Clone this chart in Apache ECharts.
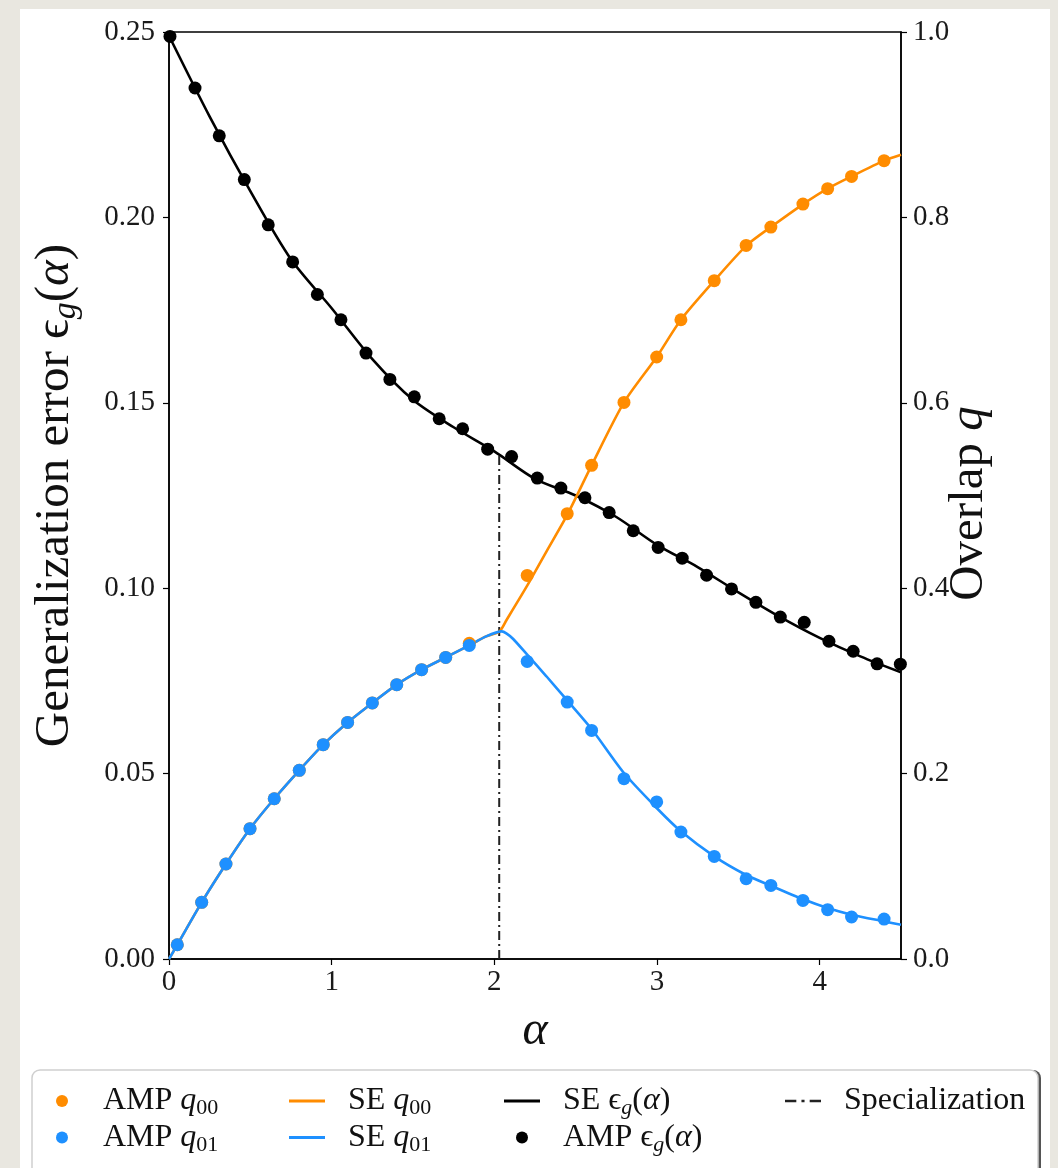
<!DOCTYPE html>
<html>
<head>
<meta charset="utf-8">
<script src="https://cdn.jsdelivr.net/npm/echarts@6/dist/echarts.min.js"></script>
<style>
  html, body { margin: 0; padding: 0; background: #e9e7e0; }
  #panel { position: absolute; left: 20px; top: 9px; width: 1030px; height: 1159px; background: #fff; }
  #chart { position: absolute; left: 0; top: 0; width: 1058px; height: 1168px; }
</style>
</head>
<body>
<div id="panel"></div>
<div id="chart"></div>
<script>
// AMP generalization error points
const epsAlpha = [0.006, 0.160, 0.309, 0.463, 0.610, 0.760, 0.912, 1.057, 1.211, 1.358, 1.508, 1.661, 1.805, 1.959, 2.106, 2.264, 2.409, 2.557, 2.706, 2.854, 3.007, 3.155, 3.305, 3.458, 3.608, 3.758, 3.905, 4.057, 4.206, 4.353, 4.496];
const ampEps = [0.2488, 0.2349, 0.2220, 0.2102, 0.1980, 0.1880, 0.1792, 0.1724, 0.1634, 0.1563, 0.1516, 0.1457, 0.1430, 0.1375, 0.1355, 0.1297, 0.1270, 0.1244, 0.1204, 0.1155, 0.1110, 0.1081, 0.1035, 0.0998, 0.0962, 0.0922, 0.0908, 0.0857, 0.0830, 0.0796, 0.0795];

// SE generalization error curve
const seAlpha = [0, 0.25, 0.5, 0.75, 1, 1.25, 1.5, 1.75, 2, 2.25, 2.5, 2.75, 3, 3.25, 3.5, 3.75, 4, 4.25, 4.5];
const seEps = [0.2490, 0.2272, 0.2071, 0.1887, 0.1755, 0.1618, 0.1508, 0.1434, 0.1369, 0.1295, 0.1250, 0.1192, 0.1117, 0.1057, 0.0989, 0.0924, 0.0866, 0.0816, 0.0773];

// AMP overlaps
const qAlpha = [0.051, 0.201, 0.350, 0.498, 0.647, 0.801, 0.948, 1.098, 1.250, 1.400, 1.553, 1.701, 1.846, 2.202, 2.448, 2.598, 2.797, 2.998, 3.147, 3.352, 3.548, 3.700, 3.897, 4.049, 4.196, 4.396];
const ampQ00 = [0.0154, 0.0611, 0.1025, 0.1406, 0.1729, 0.2035, 0.2312, 0.2552, 0.2762, 0.2959, 0.3121, 0.3253, 0.3405, 0.4138, 0.4804, 0.5325, 0.6004, 0.6494, 0.6896, 0.7317, 0.7698, 0.7896, 0.8144, 0.8310, 0.8442, 0.8612];
const ampQ01 = [0.0154, 0.0611, 0.1025, 0.1406, 0.1729, 0.2035, 0.2312, 0.2552, 0.2762, 0.2959, 0.3121, 0.3253, 0.3383, 0.3210, 0.2772, 0.2466, 0.1945, 0.1694, 0.1370, 0.1107, 0.0866, 0.0794, 0.0632, 0.0532, 0.0453, 0.0431];

// SE overlaps
const seQ01Alpha = [0, 0.051, 0.201, 0.350, 0.498, 0.647, 0.801, 0.948, 1.098, 1.250, 1.400, 1.553, 1.701, 1.846, 1.95, 2.045, 2.076, 2.116, 2.202, 2.32, 2.448, 2.598, 2.797, 2.998, 3.147, 3.352, 3.545, 3.700, 3.895, 4.049, 4.196, 4.396, 4.5];
const seQ01 = [0, 0.0154, 0.0611, 0.1025, 0.1406, 0.1729, 0.2035, 0.2312, 0.2552, 0.2762, 0.2959, 0.3121, 0.3253, 0.3383, 0.3480, 0.3534, 0.3510, 0.3452, 0.3283, 0.3050, 0.2790, 0.2481, 0.2006, 0.1629, 0.1377, 0.1107, 0.0909, 0.0791, 0.0647, 0.0550, 0.0478, 0.0406, 0.0370];
const seQ00Alpha = [0, 0.051, 0.201, 0.350, 0.498, 0.647, 0.801, 0.948, 1.098, 1.250, 1.400, 1.553, 1.701, 1.846, 1.95, 2.03, 2.076, 2.202, 2.321, 2.448, 2.598, 2.797, 2.998, 3.147, 3.352, 3.551, 3.700, 3.899, 4.049, 4.196, 4.396, 4.5];
const seQ00 = [0, 0.0154, 0.0611, 0.1025, 0.1406, 0.1729, 0.2035, 0.2312, 0.2552, 0.2762, 0.2959, 0.3121, 0.3253, 0.3383, 0.3480, 0.3530, 0.3660, 0.4027, 0.4397, 0.4790, 0.5325, 0.6004, 0.6494, 0.6896, 0.7317, 0.7698, 0.7896, 0.8144, 0.8310, 0.8442, 0.8612, 0.8676];

// specialization transition
const specAlpha = [2.03, 2.03];
const specEps = [0, 0.136];

const leftTicks = ['0.00', '0.05', '0.10', '0.15', '0.20', '0.25'];

const zip = (xs, ys) => xs.map((x, i) => [x, ys[i]]);

const FONT = "'Liberation Serif', 'DejaVu Serif', serif";
const ORANGE = '#ff8c00';
const BLUE = '#1e90ff';

// legend glyphs: plain stroke and dash-dot stroke
const LINE_ICON = 'path://M0,0H36V3H0Z';
const DASHDOT_ICON = 'path://M0,0H11V2.4H0Z M16,0H19V2.4H16Z M24,0H35V2.4H24Z';

const richLegend = {
  r: { fontFamily: FONT, fontSize: 32, color: '#111', padding: [0, 0, 0, 18] },
  n: { fontFamily: FONT, fontSize: 32, color: '#111' },
  i: { fontFamily: FONT, fontSize: 32, fontStyle: 'italic', color: '#111' },
  e: { fontFamily: FONT, fontSize: 32, color: '#111' },
  s: { fontFamily: FONT, fontSize: 22, color: '#111', padding: [15, 0, 0, 0] },
  si: { fontFamily: FONT, fontSize: 22, fontStyle: 'italic', color: '#111', padding: [15, 0, 0, 0] }
};

const legendText = {
  'AMP q00': '{r|AMP }{i|q}{s|00}',
  'AMP q01': '{r|AMP }{i|q}{s|01}',
  'SE q00': '{r|SE }{i|q}{s|00}',
  'SE q01': '{r|SE }{i|q}{s|01}',
  'SE eps': '{r|SE }{e|ϵ}{si|g}{n|(}{i|α}{n|)}',
  'AMP eps': '{r|AMP }{e|ϵ}{si|g}{n|(}{i|α}{n|)}',
  'Specialization': '{r|Specialization}'
};

function legendCol(left, names) {
  return {
    orient: 'vertical',
    left: left,
    top: 1080,
    itemWidth: 36,
    itemHeight: 12,
    itemGap: 2,
    selectedMode: false,
    formatter: name => legendText[name],
    textStyle: { rich: richLegend },
    data: names
  };
}

const chart = echarts.init(document.getElementById('chart'));

const option = {
  backgroundColor: 'transparent',
  animation: false,
  grid: {
    left: 169, top: 32, width: 732, height: 927,
    show: true, backgroundColor: '#fff', borderColor: '#000', borderWidth: 1.5
  },
  graphic: [
    { type: 'rect', shape: { x: 35, y: 1070, width: 1006, height: 130, r: 8 }, style: { fill: '#555' }, z: -10 },
    { type: 'rect', shape: { x: 32, y: 1070, width: 1006, height: 130, r: 8 }, style: { fill: '#fff', stroke: '#cfcfcf', lineWidth: 1.5 }, z: -9 }
  ],
  legend: [
    legendCol(51, ['AMP q00', 'AMP q01']),
    legendCol(284, [{ name: 'SE q00', icon: LINE_ICON }, { name: 'SE q01', icon: LINE_ICON }]),
    legendCol(499, [{ name: 'SE eps', icon: LINE_ICON }, 'AMP eps']),
    legendCol(780, [{ name: 'Specialization', icon: DASHDOT_ICON }])
  ],
  xAxis: {
    type: 'value', min: 0, max: 4.5, interval: 1,
    name: 'α', nameLocation: 'middle', nameGap: 48,
    nameTextStyle: { fontFamily: FONT, fontSize: 48, fontStyle: 'italic', color: '#111' },
    axisLine: { lineStyle: { color: '#000', width: 1.5 } },
    axisTick: { length: 6, lineStyle: { color: '#000', width: 1.2 } },
    axisLabel: { showMaxLabel: false, margin: 9, fontFamily: FONT, fontSize: 29, color: '#1a1a1a' },
    splitLine: { show: false }
  },
  yAxis: [
    {
      type: 'value', min: 0, max: 0.25, interval: 0.05, position: 'left',
      name: '{n|Generalization error }{e|ϵ}{s|g}{n|(}{i|α}{n|)}',
      nameLocation: 'middle', nameGap: 86, nameRotate: 90,
      nameTextStyle: {
        rich: {
          n: { fontFamily: FONT, fontSize: 49, color: '#111' },
          e: { fontFamily: FONT, fontSize: 49, color: '#111' },
          i: { fontFamily: FONT, fontSize: 49, fontStyle: 'italic', color: '#111' },
          s: { fontFamily: FONT, fontSize: 34, fontStyle: 'italic', color: '#111', padding: [21, 0, 0, 0] }
        }
      },
      axisLine: { show: true, lineStyle: { color: '#000', width: 1.5 } },
      axisTick: { show: true, length: 6, lineStyle: { color: '#000', width: 1.2 } },
      axisLabel: { margin: 14, fontFamily: FONT, fontSize: 29, color: '#1a1a1a', formatter: v => leftTicks[Math.round(v / 0.05)] },
      splitLine: { show: false }
    },
    {
      type: 'value', min: 0, max: 1, interval: 0.2, position: 'right',
      name: '{n|Overlap }{i|q}',
      nameLocation: 'middle', nameGap: 44, nameRotate: 90, nameMoveOverlap: false,
      nameTextStyle: {
        padding: [0, 16, 0, 0],
        rich: {
          n: { fontFamily: FONT, fontSize: 49, color: '#111' },
          i: { fontFamily: FONT, fontSize: 49, fontStyle: 'italic', color: '#111' }
        }
      },
      axisLine: { show: true, lineStyle: { color: '#000', width: 1.5 } },
      axisTick: { show: true, length: 6, lineStyle: { color: '#000', width: 1.2 } },
      axisLabel: { margin: 12, fontFamily: FONT, fontSize: 29, color: '#1a1a1a', formatter: v => v.toFixed(1) },
      splitLine: { show: false }
    }
  ],
  series: [
    {
      name: 'SE eps', type: 'line', yAxisIndex: 0, smooth: 0.3, symbol: 'none',
      lineStyle: { color: '#000', width: 2.6 }, itemStyle: { color: '#000' },
      data: zip(seAlpha, seEps), z: 2
    },
    {
      name: 'AMP eps', type: 'scatter', yAxisIndex: 0, symbolSize: 13,
      itemStyle: { color: '#000', opacity: 1 }, data: zip(epsAlpha, ampEps), z: 3
    },
    {
      name: 'Specialization', type: 'line', yAxisIndex: 0, symbol: 'none',
      lineStyle: { color: '#222', width: 2, type: [9, 4, 2, 4] }, itemStyle: { color: '#222' },
      data: zip(specAlpha, specEps), z: 2
    },
    {
      name: 'SE q00', type: 'line', yAxisIndex: 1, smooth: 0.25, symbol: 'none',
      lineStyle: { color: ORANGE, width: 2.6 }, itemStyle: { color: ORANGE },
      data: zip(seQ00Alpha, seQ00), z: 4
    },
    {
      name: 'SE q01', type: 'line', yAxisIndex: 1, smooth: 0.25, symbol: 'none',
      lineStyle: { color: BLUE, width: 2.6 }, itemStyle: { color: BLUE },
      data: zip(seQ01Alpha, seQ01), z: 5
    },
    {
      name: 'AMP q00', type: 'scatter', yAxisIndex: 1, symbolSize: 13,
      itemStyle: { color: ORANGE, opacity: 1 }, data: zip(qAlpha, ampQ00), z: 6
    },
    {
      name: 'AMP q01', type: 'scatter', yAxisIndex: 1, symbolSize: 13,
      itemStyle: { color: BLUE, opacity: 1 }, data: zip(qAlpha, ampQ01), z: 7
    }
  ]
};

chart.setOption(option);
window.addEventListener('resize', chart.resize);
</script>
</body>
</html>
